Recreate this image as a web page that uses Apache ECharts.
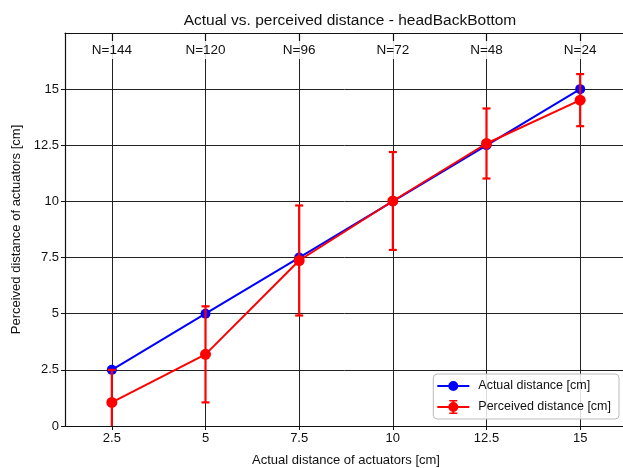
<!DOCTYPE html>
<html>
<head>
<meta charset="utf-8">
<style>
  html, body { margin: 0; padding: 0; background: #fff; }
  #chart { width: 623px; height: 468px; }
</style>
<script src="https://cdn.jsdelivr.net/npm/echarts@6/dist/echarts.min.js"></script>
</head>
<body>
<div id="chart"></div>
<script>
// Actuator spacing (cm) and sample counts per spacing
const actualDistance = [2.5, 5, 7.5, 10, 12.5, 15];
const sampleCounts = ['N=144', 'N=120', 'N=96', 'N=72', 'N=48', 'N=24'];
// Mean perceived distance (cm) and its error-bar half-length
const perceivedMean = [1.05, 3.19, 7.37, 10.02, 12.58, 14.51];
const perceivedErr = [1.45, 2.14, 2.45, 2.18, 1.56, 1.16];
// Axis ticks
const xTicks = [2.5, 5, 7.5, 10, 12.5, 15];
const yTicks = [0, 2.5, 5, 7.5, 10, 12.5, 15];

const FONT = '"Liberation Sans", Arial, sans-serif';
const INK = '#111';

const actualData = actualDistance.map(d => [d, d]);
const perceivedData = actualDistance.map((d, i) => [d, perceivedMean[i]]);
const errorData = actualDistance.map((d, i) => [d, perceivedMean[i] - perceivedErr[i], perceivedMean[i] + perceivedErr[i]]);
const topLabelMap = {};
xTicks.forEach((v, i) => { topLabelMap[v] = sampleCounts[i]; });

function fmt(v) { return String(+v.toFixed(2)); }

// Legend glyphs: line + dot, and line + dot + capped vertical bar
const iconActual = 'path://M0 6.1H32V7.9H0Z M11 7A5 5 0 1 1 21 7A5 5 0 1 1 11 7Z M16 0h0.01v0.01h-0.01Z M16 14h0.01v-0.01h-0.01Z';
const iconPerceived = 'path://M0 6.1H32V7.9H0Z M11 7A5 5 0 1 1 21 7A5 5 0 1 1 11 7Z M15 0H17V14H15Z M12 0H20V1.4H12Z M12 12.6H20V14H12Z';

const chart = echarts.init(document.getElementById('chart'), null, { renderer: 'canvas' });

chart.setOption({
  animation: false,
  backgroundColor: '#fff',
  textStyle: { fontFamily: FONT },
  title: {
    text: 'Actual vs. perceived distance - headBackBottom',
    left: 345, top: 8, textAlign: 'center',
    textStyle: { fontFamily: FONT, fontSize: 15.5, fontWeight: 'normal', color: INK }
  },
  grid: { left: 65, top: 33, width: 562, height: 393, containLabel: false, outerBoundsMode: 'none' },
  legend: {
    orient: 'vertical',
    right: 4, bottom: 49,
    data: [
      { name: 'Actual distance [cm]', icon: iconActual },
      { name: 'Perceived distance [cm]', icon: iconPerceived }
    ],
    itemWidth: 32, itemHeight: 14, itemGap: 7,
    padding: [5, 8, 5, 4],
    borderColor: '#bbb', borderWidth: 1, borderRadius: 4,
    backgroundColor: 'rgba(255,255,255,0.85)',
    textStyle: { fontFamily: FONT, fontSize: 12.5, color: INK, padding: [0, 0, 0, 4] }
  },
  xAxis: [
    {
      type: 'value', position: 'bottom',
      min: 1.25, max: 16.25,
      name: 'Actual distance of actuators [cm]',
      nameLocation: 'middle', nameGap: 28,
      nameTextStyle: { fontFamily: FONT, fontSize: 13, color: INK },
      axisLine: { show: true, onZero: false, lineStyle: { color: INK, width: 1.2 } },
      axisTick: { show: true, length: 4, customValues: xTicks, lineStyle: { color: INK } },
      axisLabel: { customValues: xTicks, formatter: fmt, fontFamily: FONT, fontSize: 13, color: INK, margin: 6 },
      splitLine: { show: true, lineStyle: { color: '#222', width: 1 } }
    },
    {
      type: 'value', position: 'top',
      min: 1.25, max: 16.25,
      axisLine: { show: true, onZero: false, lineStyle: { color: INK, width: 1.2 } },
      axisTick: { show: true, inside: true, length: 8, customValues: xTicks, lineStyle: { color: INK, width: 1.2 } },
      axisLabel: {
        inside: true, customValues: xTicks, margin: 8,
        formatter: v => topLabelMap[v] || '',
        fontFamily: FONT, fontSize: 13.5, color: INK,
        backgroundColor: 'rgba(255,255,255,0.85)',
        padding: [2, 1, 2, 1]
      },
      splitLine: { show: false },
      z: 10
    }
  ],
  yAxis: {
    type: 'value',
    min: 0, max: 17.5,
    name: 'Perceived distance of actuators [cm]',
    nameLocation: 'middle', nameGap: 41, nameRotate: 90,
    nameTextStyle: { fontFamily: FONT, fontSize: 13, color: INK },
    axisLine: { show: true, onZero: false, lineStyle: { color: INK, width: 1.2 } },
    axisTick: { show: true, length: 4, customValues: yTicks, lineStyle: { color: INK } },
    axisLabel: {
      customValues: yTicks, formatter: fmt,
      fontFamily: FONT, fontSize: 13, color: INK, margin: 6
    },
    splitLine: { show: true, lineStyle: { color: '#222', width: 1 } }
  },
  series: [
    {
      name: 'Actual distance [cm]',
      type: 'line',
      data: actualData,
      color: '#0000ff',
      symbol: 'circle', symbolSize: 10,
      lineStyle: { width: 2, color: '#0000ff' },
      itemStyle: { color: '#0000ff' },
      z: 3
    },
    {
      name: 'Perceived distance [cm]',
      type: 'line',
      data: perceivedData,
      color: '#ff0000',
      symbol: 'circle', symbolSize: 11,
      lineStyle: { width: 2, color: '#ff0000' },
      itemStyle: { color: '#ff0000' },
      z: 5
    },
    {
      name: 'perceived spread',
      type: 'custom',
      data: errorData,
      clip: true,
      z: 4,
      encode: { x: 0, y: [1, 2] },
      renderItem: function (params, api) {
        const x = api.value(0);
        const lo = api.coord([x, api.value(1)]);
        const hi = api.coord([x, api.value(2)]);
        const cap = 4;
        const style = { stroke: '#ff0000', lineWidth: 2.2 };
        return {
          type: 'group',
          children: [
            { type: 'line', shape: { x1: lo[0], y1: lo[1], x2: hi[0], y2: hi[1] }, style: style },
            { type: 'line', shape: { x1: hi[0] - cap, y1: hi[1], x2: hi[0] + cap, y2: hi[1] }, style: style },
            { type: 'line', shape: { x1: lo[0] - cap, y1: lo[1], x2: lo[0] + cap, y2: lo[1] }, style: style }
          ]
        };
      }
    }
  ]
});
</script>
</body>
</html>
